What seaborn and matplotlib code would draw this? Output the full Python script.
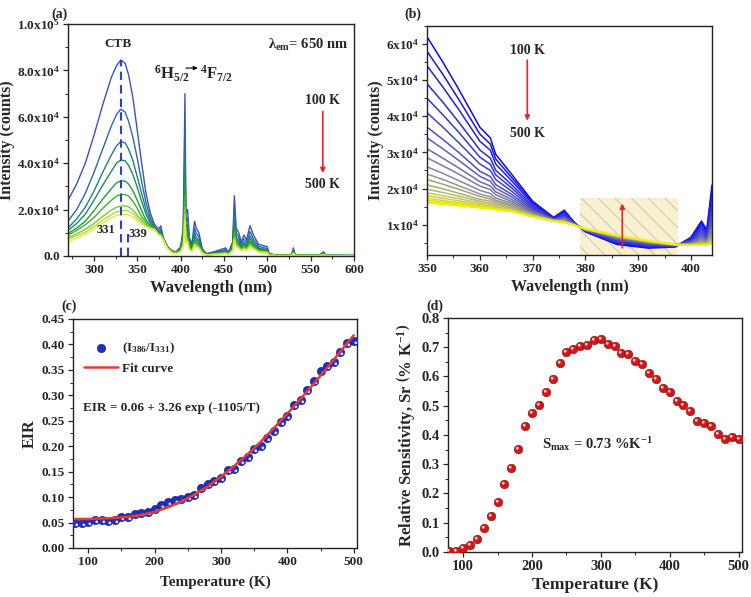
import numpy as np
import pandas as pd
import matplotlib
matplotlib.use("Agg")
import matplotlib.pyplot as plt
import seaborn as sns
from matplotlib.path import Path
from matplotlib.colors import LinearSegmentedColormap, to_hex
from matplotlib.ticker import MultipleLocator, FixedLocator, FixedFormatter

# ---------------- data ----------------
# Panel (a): excitation spectra (lambda_em = 650 nm), 100 K .. 500 K
a_temps = [100, 150, 200, 250, 300, 350, 400, 450, 500]
a_wl = [270, 280, 290, 300, 310, 320, 326, 331, 336, 340, 345, 350, 355, 360, 365, 370, 375, 377, 380,
        385, 390, 395, 400, 403, 405, 406, 408, 410, 413, 416, 418, 421, 425, 430, 440, 452, 455, 460,
        462, 464, 467, 470, 473, 476, 480, 484, 490, 500, 502, 510, 528, 530, 532, 560, 565, 567, 600]
a_band = [
    [24000, 31000, 40000, 52000, 65000, 77000, 82000, 84500, 83000, 78000, 68000, 54000, 40000, 27000, 18500, 13500, 11500, 13000, 8000],
    [15000, 20000, 27000, 36000, 46000, 56000, 61000, 63300, 62000, 58000, 51000, 42000, 32000, 23000, 16500, 12500, 10500, 11500, 7500],
    [12000, 16000, 21000, 28000, 36000, 43500, 47500, 49300, 48800, 46000, 41000, 34000, 27000, 20000, 15000, 12200, 10000, 10500, 7300],
    [11000, 14000, 18000, 24000, 30500, 36500, 40000, 41400, 41000, 39000, 35000, 29500, 23500, 18000, 14000, 12000, 9800, 10000, 7200],
    [9700, 12000, 15000, 19500, 24500, 29000, 31500, 32400, 32300, 31000, 28000, 24000, 19500, 15500, 13000, 11800, 9500, 9500, 7100],
    [9000, 11000, 13500, 16500, 20500, 24000, 25800, 26500, 26500, 25800, 23500, 20500, 17000, 14500, 12500, 11600, 9300, 9200, 7000],
    [7900, 9500, 11500, 14000, 17000, 19800, 21000, 21500, 21600, 21200, 19800, 17500, 15500, 13500, 12200, 11500, 9200, 9000, 7000],
    [7100, 8600, 10300, 12700, 15400, 17800, 19000, 19500, 19700, 19400, 18200, 16300, 14500, 13000, 12000, 11400, 9100, 8900, 7000],
    [6000, 7600, 9300, 11600, 14100, 16400, 17500, 17800, 18000, 17800, 16900, 15300, 13900, 12600, 11800, 11300, 9000, 8800, 7000],
]
a_lines = [
    [4000, 2200, 1800, 4000, 12000, 70000, 18000, 20000, 8000, 5000, 15000, 12000, 10000, 3000, 1000, 2000, 3500, 1500, 6000, 26000, 12000, 10000, 6000, 9000, 7000, 13000, 9000, 5000, 4000, 1000, 500, 500, 3500, 500, 400, 1800, 300, 200],
    [3900, 2100, 1700, 3600, 10000, 56000, 15000, 16500, 6800, 4300, 12000, 9800, 8200, 2600, 900, 1600, 2800, 1300, 5000, 21000, 10000, 8200, 5000, 7300, 5800, 10500, 7300, 4100, 3200, 900, 400, 400, 2800, 400, 350, 1400, 250, 200],
    [3800, 2000, 1600, 3200, 8500, 45000, 12500, 13500, 5700, 3700, 10000, 8000, 6800, 2200, 800, 1400, 2300, 1100, 4200, 17000, 8300, 6800, 4200, 6000, 4800, 8700, 6000, 3400, 2700, 800, 350, 350, 2300, 350, 300, 1200, 220, 200],
    [3700, 1900, 1500, 2900, 7500, 38000, 10800, 11600, 5000, 3300, 8500, 7000, 6000, 2000, 700, 1200, 2000, 1000, 3700, 14500, 7200, 5900, 3700, 5200, 4200, 7500, 5200, 3000, 2300, 700, 300, 300, 2000, 300, 280, 1000, 200, 180],
    [3600, 1800, 1400, 2600, 6500, 31000, 9200, 9800, 4300, 2900, 7200, 6000, 5100, 1800, 600, 1000, 1700, 900, 3200, 12000, 6200, 5100, 3200, 4500, 3600, 6400, 4500, 2600, 2000, 600, 280, 280, 1700, 280, 260, 850, 200, 180],
    [3500, 1700, 1300, 2400, 5800, 26000, 8000, 8500, 3800, 2600, 6300, 5300, 4500, 1600, 550, 900, 1500, 800, 2900, 10200, 5500, 4500, 2900, 4000, 3200, 5600, 4000, 2300, 1800, 550, 260, 260, 1500, 260, 240, 750, 190, 170],
    [3400, 1600, 1200, 2200, 5000, 21000, 6800, 7200, 3300, 2300, 5400, 4600, 3900, 1400, 500, 800, 1300, 700, 2600, 8400, 4800, 3900, 2600, 3500, 2800, 4800, 3500, 2000, 1600, 500, 240, 240, 1300, 240, 220, 650, 180, 160],
    [3300, 1500, 1100, 2000, 4600, 18000, 6200, 6500, 3000, 2100, 4900, 4200, 3600, 1300, 450, 750, 1200, 650, 2400, 7500, 4400, 3600, 2400, 3200, 2600, 4300, 3200, 1800, 1500, 450, 220, 220, 1200, 220, 200, 600, 170, 150],
    [3200, 1400, 1000, 1800, 4200, 15000, 5600, 5900, 2700, 1900, 4400, 3800, 3300, 1200, 400, 700, 1100, 600, 2200, 6600, 4000, 3300, 2200, 2900, 2400, 3800, 2900, 1600, 1400, 400, 200, 200, 1100, 200, 180, 550, 160, 150],
]
a_colors = ['#3a50c8', '#2c67aa', '#1f7f86', '#1a8f55', '#1f9e33', '#3eb02a', '#7cc636', '#b8da3c', '#e2ec34']
a_yticks = [0, 20000, 40000, 60000, 80000, 100000]
a_yticklabels = ['0.0', '2.0x10$^4$', '4.0x10$^4$', '6.0x10$^4$', '8.0x10$^4$', '1.0x10$^5$']
a_peaks = [331, 339]

# Panel (b): zoomed spectra 350-404 nm, 100 K .. 500 K
b_temps = [100, 120, 140, 160, 180, 200, 220, 240, 260, 280, 300, 320, 340, 360, 380, 400, 420, 440, 460, 480, 500]
b_wl = [350, 353, 356, 360, 362, 363, 366, 370, 374, 376, 378, 380, 386, 392, 397, 400, 402, 403, 404]
b_int = [
    [62000, 55000, 47500, 37000, 34000, 29500, 24000, 16500, 12000, 14000, 10500, 8000, 4500, 3500, 3800, 6500, 11000, 8500, 21000],
    [58000, 51600, 44700, 35100, 32300, 28200, 23100, 16100, 11900, 13700, 10400, 8100, 4700, 3700, 3900, 6300, 10400, 8100, 19600],
    [54000, 48100, 41900, 33100, 30600, 26800, 22200, 15800, 11800, 13400, 10400, 8100, 4900, 3900, 3900, 6100, 9800, 7800, 18200],
    [49000, 43900, 38400, 30700, 28400, 25100, 21100, 15300, 11700, 13000, 10300, 8200, 5200, 4100, 4000, 5900, 9100, 7300, 16400],
    [45000, 40400, 35600, 28700, 26700, 23800, 20200, 14900, 11600, 12700, 10200, 8300, 5400, 4200, 4100, 5700, 8500, 7000, 14900],
    [41000, 37000, 32700, 26800, 25000, 22500, 19300, 14500, 11500, 12500, 10200, 8400, 5600, 4400, 4100, 5500, 7900, 6600, 13500],
    [37000, 33600, 30000, 24800, 23300, 21100, 18400, 14200, 11500, 12200, 10100, 8400, 5900, 4600, 4200, 5300, 7400, 6300, 12100],
    [34000, 31000, 27800, 23400, 22000, 20100, 17700, 13900, 11400, 11900, 10100, 8500, 6000, 4700, 4200, 5200, 6900, 6000, 11000],
    [31000, 28400, 25700, 21900, 20700, 19100, 17000, 13600, 11300, 11700, 10000, 8500, 6200, 4900, 4300, 5000, 6500, 5700, 10000],
    [28500, 26300, 24000, 20700, 19700, 18300, 16400, 13400, 11300, 11500, 10000, 8600, 6300, 5000, 4300, 4900, 6100, 5500, 9100],
    [26000, 24200, 22200, 19500, 18600, 17400, 15900, 13100, 11200, 11300, 10000, 8600, 6500, 5100, 4400, 4800, 5800, 5300, 8200],
    [24000, 22500, 20800, 18500, 17700, 16800, 15400, 12900, 11200, 11200, 9900, 8700, 6600, 5200, 4400, 4700, 5500, 5100, 7500],
    [22500, 21200, 19800, 17800, 17100, 16300, 15100, 12800, 11100, 11100, 9900, 8700, 6700, 5200, 4400, 4600, 5200, 5000, 6900],
    [21000, 19900, 18700, 17000, 16500, 15800, 14700, 12700, 11100, 11000, 9900, 8700, 6700, 5300, 4400, 4500, 5000, 4900, 6400],
    [19800, 18900, 17900, 16500, 15900, 15400, 14500, 12600, 11100, 10900, 9900, 8700, 6800, 5300, 4400, 4500, 4900, 4700, 6000],
    [18800, 18000, 17200, 16000, 15500, 15000, 14200, 12500, 11100, 10800, 9800, 8800, 6800, 5400, 4500, 4400, 4700, 4600, 5600],
    [18000, 17300, 16600, 15600, 15200, 14800, 14100, 12400, 11000, 10700, 9800, 8800, 6900, 5400, 4500, 4400, 4600, 4600, 5300],
    [17300, 16700, 16100, 15200, 14900, 14500, 13900, 12300, 11000, 10700, 9800, 8800, 6900, 5400, 4500, 4400, 4500, 4500, 5100],
    [16800, 16300, 15700, 15000, 14600, 14400, 13800, 12300, 11000, 10700, 9800, 8800, 7000, 5500, 4500, 4300, 4400, 4500, 4900],
    [16400, 15900, 15500, 14800, 14500, 14200, 13700, 12200, 11000, 10600, 9800, 8800, 7000, 5500, 4500, 4300, 4400, 4400, 4700],
    [16000, 15600, 15200, 14600, 14300, 14100, 13600, 12200, 11000, 10600, 9800, 8800, 7000, 5500, 4500, 4300, 4300, 4400, 4600],
]
b_yticks = [10000, 20000, 30000, 40000, 50000, 60000]
b_yticklabels = ['1x10$^4$', '2x10$^4$', '3x10$^4$', '4x10$^4$', '5x10$^4$', '6x10$^4$']
b_box = [379, 397.5, 17300]   # highlighted window: x0, x1, top

# Panel (c): EIR vs temperature
c_T = list(range(80, 510, 10))
c_eir = [0.050, 0.050, 0.051, 0.055, 0.055, 0.053, 0.055, 0.060, 0.060, 0.066, 0.068, 0.070, 0.077, 0.085,
         0.090, 0.095, 0.097, 0.101, 0.105, 0.118, 0.125, 0.131, 0.138, 0.153, 0.156, 0.170, 0.178, 0.195,
         0.201, 0.217, 0.230, 0.248, 0.260, 0.280, 0.290, 0.310, 0.328, 0.347, 0.358, 0.365, 0.385, 0.402, 0.407]
c_fit_T = list(range(80, 520, 20))
c_fit = [0.057, 0.057, 0.058, 0.059, 0.061, 0.065, 0.071, 0.080, 0.091, 0.105, 0.121, 0.140, 0.161, 0.184,
         0.209, 0.236, 0.264, 0.293, 0.323, 0.354, 0.386, 0.418]

# Panel (d): relative sensitivity
d_T = list(range(80, 510, 10))
d_sr = [0.003, 0.005, 0.012, 0.024, 0.045, 0.081, 0.123, 0.170, 0.233, 0.287, 0.353, 0.429, 0.475, 0.501,
        0.547, 0.593, 0.646, 0.682, 0.694, 0.705, 0.706, 0.726, 0.728, 0.712, 0.705, 0.681, 0.677, 0.654,
        0.643, 0.611, 0.593, 0.562, 0.546, 0.517, 0.501, 0.482, 0.449, 0.441, 0.431, 0.403, 0.387, 0.392, 0.386]

# ---------------- style ----------------
sns.set_style("ticks")
plt.rcParams['font.family'] = ['Liberation Serif', 'DejaVu Serif']
plt.rcParams['font.weight'] = 'bold'
plt.rcParams['axes.labelweight'] = 'bold'
plt.rcParams['mathtext.fontset'] = 'custom'
plt.rcParams['mathtext.rm'] = 'Liberation Serif:bold'
plt.rcParams['mathtext.it'] = 'Liberation Serif:bold'
plt.rcParams['mathtext.bf'] = 'Liberation Serif:bold'
plt.rcParams['mathtext.default'] = 'rm'
plt.rcParams['xtick.direction'] = 'out'
plt.rcParams['ytick.direction'] = 'out'
plt.rcParams['hatch.linewidth'] = 0.7

RED = '#e8232b'

fig = plt.figure(figsize=(7.51, 5.97), dpi=100)
axA = fig.add_axes([0.0905, 0.5712, 0.3809, 0.3886])
axB = fig.add_axes([0.5686, 0.5729, 0.3795, 0.3836])
axC = fig.add_axes([0.0972, 0.0821, 0.3782, 0.3836])
axD = fig.add_axes([0.5965, 0.0754, 0.3915, 0.3920])


def style_axes(ax, tick):
    for s in ax.spines.values():
        s.set_visible(True)
        s.set_linewidth(1.0)
        s.set_color('#222222')
    ax.tick_params(which='major', length=3.5, width=0.9, labelsize=tick, top=False, right=False, pad=2.5)
    ax.tick_params(which='minor', length=2, width=0.7, top=False, right=False)
    for lab in ax.get_xticklabels() + ax.get_yticklabels():
        lab.set_fontweight('bold')


def highlight_marker(cx, cy):
    th = np.linspace(0, 2 * np.pi, 30)
    circ = np.column_stack([0.33 * np.cos(th) + cx, 0.33 * np.sin(th) + cy])
    verts = [(-1, -1), (1, 1)] + [tuple(v) for v in circ]
    codes = [Path.MOVETO, Path.MOVETO, Path.MOVETO] + [Path.LINETO] * (len(circ) - 2) + [Path.CLOSEPOLY]
    return Path(verts, codes)


# ---------------- panel (a) ----------------
rows = []
for t, band, lines in zip(a_temps, a_band, a_lines):
    for w, v in zip(a_wl, band + lines):
        rows.append((t, w, v))
dfa = pd.DataFrame(rows, columns=['T', 'wl', 'I'])
sns.lineplot(data=dfa, x='wl', y='I', hue='T', palette=dict(zip(a_temps, a_colors)),
             estimator=None, legend=False, linewidth=1.0, ax=axA)
axA.plot([a_peaks[0], a_peaks[0]], [0, max(a_band[0])], ls='--', color='#2b3fd0', lw=1.5, dashes=(4, 2.5))
axA.plot([a_peaks[1], a_peaks[1]], [0, 10500], ls='--', color='#2b3fd0', lw=1.5, dashes=(4, 2.5))
axA.set_xlim(270, 600)
axA.set_ylim(0, 100000)
axA.xaxis.set_major_locator(MultipleLocator(50))
axA.xaxis.set_minor_locator(MultipleLocator(25))
axA.yaxis.set_major_locator(FixedLocator(a_yticks))
axA.yaxis.set_major_formatter(FixedFormatter(a_yticklabels))
axA.yaxis.set_minor_locator(MultipleLocator(10000))
axA.set_xlabel('Wavelength (nm)', fontsize=12, fontweight='bold', labelpad=2.5)
axA.set_ylabel('Intensity (counts)', fontsize=11.5, fontweight='bold', labelpad=1)
axA.text(328, 91500, 'CTB', fontsize=9.5, ha='center', va='center', fontweight='bold')
axA.text(314, 11100, '331', fontsize=9, ha='center', va='center', fontweight='bold')
axA.text(351, 9400, '339', fontsize=9, ha='center', va='center', fontweight='bold')
axA.text(547, 91000, r'$\lambda_{\mathrm{em}}$= 650 nm', fontsize=10.5, ha='center', va='center')
axA.text(369, 78500, r'$^{6}$H$_{5/2}$', fontsize=12, ha='left', va='center')
axA.annotate('', xy=(423, 81000), xytext=(403, 81000),
             arrowprops=dict(arrowstyle='-|>', color='black', lw=0.8, mutation_scale=6))
axA.text(422, 78500, r'$^{4}$F$_{7/2}$', fontsize=12, ha='left', va='center')
axA.text(564, 67000, '100 K', fontsize=10, ha='center', va='center', fontweight='bold')
axA.text(564, 31000, '500 K', fontsize=10, ha='center', va='center', fontweight='bold')
axA.annotate('', xy=(564, 34500), xytext=(564, 63500),
             arrowprops=dict(arrowstyle='-|>', color=RED, lw=1.2, mutation_scale=7))
style_axes(axA, 9.5)
fig.text(0.069, 0.988, '(a)', fontsize=10, fontweight='bold', ha='left', va='top')

# ---------------- panel (b) ----------------
cmap_b = LinearSegmentedColormap.from_list('bgy', ['#0c0cf2', '#4040d0', '#888896', '#c4c45a', '#f2f200'])
b_colors = [to_hex(cmap_b(i / (len(b_temps) - 1))) for i in range(len(b_temps))]
rows = []
for t, vals in zip(b_temps, b_int):
    for w, v in zip(b_wl, vals):
        rows.append((t, w, v))
dfb = pd.DataFrame(rows, columns=['T', 'wl', 'I'])
axB.fill_between([b_box[0], b_box[1]], 0, b_box[2], facecolor='#faf0cc', edgecolor='#c2c4d2',
                 hatch='\\\\', linewidth=0, zorder=0.5)
sns.lineplot(data=dfb, x='wl', y='I', hue='T', palette=dict(zip(b_temps, b_colors)),
             estimator=None, legend=False, linewidth=1.1, ax=axB)
axB.set_xlim(350, 404)
axB.set_ylim(1600, 65000)
axB.xaxis.set_major_locator(MultipleLocator(10))
axB.xaxis.set_minor_locator(MultipleLocator(5))
axB.yaxis.set_major_locator(FixedLocator(b_yticks))
axB.yaxis.set_major_formatter(FixedFormatter(b_yticklabels))
axB.yaxis.set_minor_locator(MultipleLocator(5000))
axB.set_xlabel('Wavelength (nm)', fontsize=11.5, fontweight='bold', labelpad=2.5)
axB.set_ylabel('Intensity (counts)', fontsize=11.5, fontweight='bold', labelpad=1)
axB.text(369, 58300, '100 K', fontsize=10, ha='center', va='center', fontweight='bold')
axB.text(369, 35300, '500 K', fontsize=10, ha='center', va='center', fontweight='bold')
axB.annotate('', xy=(369, 38000), xytext=(369, 56300),
             arrowprops=dict(arrowstyle='-|>', color=RED, lw=1.2, mutation_scale=7))
axB.annotate('', xy=(387, 16600), xytext=(387, 2800),
             arrowprops=dict(arrowstyle='-|>', color=RED, lw=1.2, mutation_scale=7), zorder=5)
style_axes(axB, 9.5)
fig.text(0.539, 0.987, '(b)', fontsize=10, fontweight='bold', ha='left', va='top')

# ---------------- panel (c) ----------------
dfc = pd.DataFrame({'T': c_T, 'EIR': c_eir})
dff = pd.DataFrame({'T': c_fit_T, 'fit': c_fit})
sns.scatterplot(data=dfc, x='T', y='EIR', color='#1f2fbf', edgecolor='#10107a', linewidth=0.4,
                s=36, ax=axC, zorder=3, label=r'(I$_{386}$/I$_{331}$)')
axC.scatter(c_T, c_eir, marker=highlight_marker(0.32, -0.32), s=36, color='white', alpha=0.85,
            linewidths=0, zorder=4)
sns.lineplot(data=dff, x='T', y='fit', color='#ea3a30', linewidth=1.8, ax=axC, zorder=5, label='Fit curve')
axC.set_xlim(77, 505)
axC.set_ylim(0, 0.45)
axC.xaxis.set_major_locator(MultipleLocator(100))
axC.xaxis.set_minor_locator(MultipleLocator(50))
axC.yaxis.set_major_locator(MultipleLocator(0.05))
axC.yaxis.set_minor_locator(MultipleLocator(0.025))
axC.yaxis.set_major_formatter(plt.FuncFormatter(lambda v, p: f'{v:.2f}'))
axC.set_xlabel('Temperature (K)', fontsize=11, fontweight='bold', labelpad=5)
axC.set_ylabel('EIR', fontsize=11.5, fontweight='bold', labelpad=3)
leg = axC.legend(loc='upper left', bbox_to_anchor=(0.02, 0.93), frameon=False, fontsize=9.5,
                 handlelength=2.6, handletextpad=0.3, labelspacing=0.5, borderaxespad=0)
for txt in leg.get_texts():
    txt.set_fontweight('bold')
axC.text(92, 0.275, 'EIR = 0.06 + 3.26 exp (-1105/T)', fontsize=9.5, ha='left', va='center',
         fontweight='bold')
style_axes(axC, 9.5)
fig.text(0.082, 0.499, '(c)', fontsize=10, fontweight='bold', ha='left', va='top')

# ---------------- panel (d) ----------------
dfd = pd.DataFrame({'T': d_T, 'Sr': d_sr})
sns.scatterplot(data=dfd, x='T', y='Sr', color='#d01818', edgecolor='#8a0c0c', linewidth=0.4,
                s=38, ax=axD, zorder=3, legend=False)
axD.scatter(d_T, d_sr, marker=highlight_marker(-0.3, 0.3), s=38, color='white', alpha=0.8,
            linewidths=0, zorder=4)
axD.set_xlim(78, 505)
axD.set_ylim(0, 0.8)
axD.xaxis.set_major_locator(MultipleLocator(100))
axD.xaxis.set_minor_locator(MultipleLocator(50))
axD.yaxis.set_major_locator(MultipleLocator(0.1))
axD.yaxis.set_minor_locator(MultipleLocator(0.05))
axD.yaxis.set_major_formatter(plt.FuncFormatter(lambda v, p: f'{v:.1f}'))
axD.set_xlabel('Temperature (K)', fontsize=12.5, fontweight='bold', labelpad=3)
axD.set_ylabel(r'Relative Sensitivity, Sr $\left(\%\ \mathrm{K}^{-1}\right)$', fontsize=12,
               fontweight='bold', labelpad=3)
axD.text(215, 0.37, r'S$_{\mathrm{max}}$ = 0.73 %K$^{\mathbf{-1}}$', fontsize=10.5, ha='left',
         va='center', fontweight='bold')
style_axes(axD, 10.5)
fig.text(0.568, 0.499, '(d)', fontsize=10, fontweight='bold', ha='left', va='top')

fig.savefig('out.png', dpi=100)
